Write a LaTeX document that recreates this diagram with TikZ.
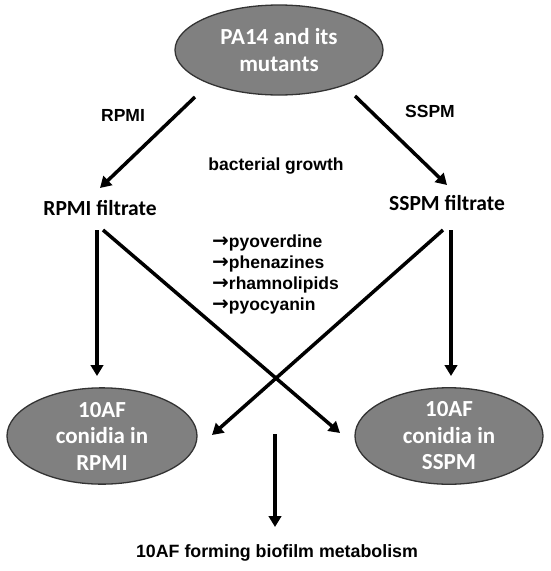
\documentclass[tikz,border=0pt]{standalone}
\usepackage{fontspec}
\setmainfont{Liberation Sans}
\newfontfamily\calib{Carlito}
\newfontfamily\dejavu{DejaVu Sans}
\newcommand{\myarr}{{\dejavu\bfseries\fontsize{20}{21}\selectfont →}}
\usetikzlibrary{arrows.meta,shapes.geometric}
\begin{document}
\begin{tikzpicture}[x=1pt,y=-1pt,
  blob/.style={ellipse,draw=black!80,line width=1.3pt,fill=black!50,text=white,
    font=\calib\bfseries\fontsize{23}{26.5}\selectfont,align=center,inner sep=0pt},
  arr/.style={line width=3.5pt,-{Triangle[length=11pt,width=12.5pt]}},
  lbl/.style={font=\bfseries\fontsize{17.5}{20}\selectfont},
  filt/.style={font=\calib\bfseries\fontsize{21.5}{24}\selectfont}]
\useasboundingbox (0,0) rectangle (550,571);
\node[blob,minimum width=208pt,minimum height=90pt] (pa) at (279,50) {PA14 and its\\mutants};
\node[lbl] (rpmi) at (123,115) {RPMI};
\node[lbl] (sspm) at (430,111) {SSPM};
\node[lbl] (bg) at (276,166) {bacterial growth};
\node[filt] (rf) at (100,208) {RPMI filtrate};
\node[filt] (sf) at (447,203) {SSPM filtrate};
\node[lbl,align=left,anchor=north west,inner sep=0pt,font=\bfseries\fontsize{17.5}{21}\selectfont] (list) at (212,235)
 {\myarr pyoverdine\\\myarr phenazines\\\myarr rhamnolipids\\\myarr pyocyanin};
\node[blob,minimum width=190pt,minimum height=88pt] (cr) at (102,436) {10AF\\conidia in\\RPMI};
\node[blob,minimum width=188pt,minimum height=88pt] (cs) at (449,436) {10AF\\conidia in\\SSPM};
\node[lbl,font=\bfseries\fontsize{17.8}{20}\selectfont] (bio) at (277,553) {10AF forming biofilm metabolism};
\coordinate (a1s) at (195,97); \coordinate (a1e) at (100,188);
\coordinate (a2s) at (355,96); \coordinate (a2e) at (447,185);
\coordinate (v1s) at (97,230); \coordinate (v1e) at (97,376);
\coordinate (v2s) at (451,230); \coordinate (v2e) at (451,376);
\coordinate (c1s) at (103,230); \coordinate (c1e) at (340,433);
\coordinate (c2s) at (443,230); \coordinate (c2e) at (212,435);
\coordinate (ms) at (275,434); \coordinate (me) at (275,527);
\draw[arr] (a1s) -- (a1e);
\draw[arr] (a2s) -- (a2e);
\draw[arr] (v1s) -- (v1e);
\draw[arr] (v2s) -- (v2e);
\draw[arr] (c1s) -- (c1e);
\draw[arr] (c2s) -- (c2e);
\draw[arr] (ms) -- (me);
\end{tikzpicture}
\end{document}
